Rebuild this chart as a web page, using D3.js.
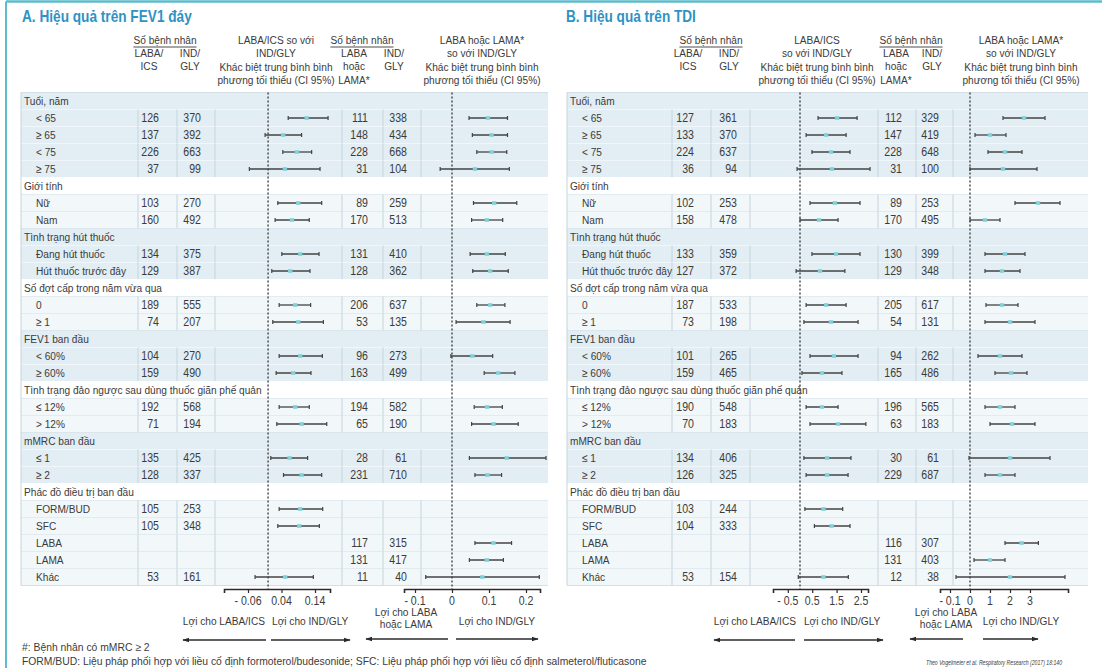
<!DOCTYPE html>
<html>
<head>
<meta charset="utf-8">
<script src="https://cdn.jsdelivr.net/npm/d3@7"></script>
<style>
  body { margin: 0; background: #fff; }
  svg { display: block; font-family: 'Liberation Sans', Arial, sans-serif; }
</style>
</head>
<body>
<svg id="chart" width="1102" height="668"></svg>
<script>
// ---- Subgroups (rows of both tables) ----
const rowLabels = [
  "Tuổi, năm", "< 65", "≥ 65", "< 75", "≥ 75",
  "Giới tính", "Nữ", "Nam",
  "Tình trạng hút thuốc", "Đang hút thuốc", "Hút thuốc trước đây",
  "Số đợt cấp trong năm vừa qua", "0", "≥ 1",
  "FEV1 ban đầu", "< 60%", "≥ 60%",
  "Tình trạng đảo ngược sau dùng thuốc giãn phế quản", "≤ 12%", "> 12%",
  "mMRC ban đầu", "≤ 1", "≥ 2",
  "Phác đồ điều trị ban đầu", "FORM/BUD", "SFC", "LABA", "LAMA", "Khác"
];
// 0 = group heading, 1 = subgroup
const rowLevel = [0,1,1,1,1, 0,1,1, 0,1,1, 0,1,1, 0,1,1, 0,1,1, 0,1,1, 0,1,1,1,1,1];

// ---- A. Trough FEV1 (L) ----
const fevLabaIcsN  = [null,126,137,226,37, null,103,160, null,134,129, null,189,74, null,104,159, null,192,71, null,135,128, null,105,105,null,null,53];
const fevIndGlyN1  = [null,370,392,663,99, null,270,492, null,375,387, null,555,207, null,270,490, null,568,194, null,425,337, null,253,348,null,null,161];
const fevLabaLamaN = [null,111,148,228,31, null,89,170, null,131,128, null,206,53, null,96,163, null,194,65, null,28,231, null,null,null,117,131,11];
const fevIndGlyN2  = [null,338,434,668,104, null,259,513, null,410,362, null,637,135, null,273,499, null,582,190, null,61,710, null,null,null,315,417,40];

const fevIcsEst = [null,0.115,0.045,0.086,0.050, null,0.090,0.071, null,0.096,0.066, null,0.081,0.090, null,0.096,0.075, null,0.081,0.100, null,0.064,0.100, null,0.096,0.093,null,null,0.051];
const fevIcsLo  = [null,0.060,-0.009,0.044,-0.056, null,0.029,0.021, null,0.041,0.011, null,0.033,0.014, null,0.033,0.024, null,0.033,0.026, null,0.008,0.046, null,0.033,0.029,null,null,-0.039];
const fevIcsHi  = [null,0.179,0.100,0.130,0.155, null,0.160,0.123, null,0.152,0.125, null,0.127,0.165, null,0.162,0.128, null,0.123,0.175, null,0.118,0.160, null,0.163,0.153,null,null,0.135];

const fevLamaEst = [null,0.097,0.107,0.107,0.062, null,0.114,0.094, null,0.094,0.103, null,0.103,0.085, null,0.055,0.125, null,0.095,0.112, null,0.148,0.096, null,null,null,0.112,0.094,0.082];
const fevLamaLo  = [null,0.046,0.055,0.067,-0.032, null,0.058,0.053, null,0.049,0.056, null,0.067,0.011, null,-0.003,0.087, null,0.060,0.053, null,0.047,0.062, null,null,null,0.062,0.047,-0.071];
const fevLamaHi  = [null,0.150,0.150,0.148,0.155, null,0.175,0.137, null,0.144,0.152, null,0.143,0.157, null,0.110,0.170, null,0.136,0.179, null,0.254,0.134, null,null,null,0.161,0.139,0.236];

// ---- B. TDI ----
const tdiLabaIcsN  = [null,127,133,224,36, null,102,158, null,133,127, null,187,73, null,101,159, null,190,70, null,134,126, null,103,104,null,null,53];
const tdiIndGlyN1  = [null,361,370,637,94, null,253,478, null,359,372, null,533,198, null,265,465, null,548,183, null,406,325, null,244,333,null,null,154];
const tdiLabaLamaN = [null,112,147,228,31, null,89,170, null,130,129, null,205,54, null,94,165, null,196,63, null,30,229, null,null,null,116,131,12];
const tdiIndGlyN2  = [null,329,419,648,100, null,253,495, null,399,348, null,617,131, null,262,486, null,565,183, null,61,687, null,null,null,307,403,38];

const tdiIcsEst = [null,1.52,1.07,1.27,1.31, null,1.43,0.78, null,1.48,0.82, null,1.07,1.27, null,1.39,0.90, null,0.90,1.56, null,1.11,1.11, null,0.96,1.30,null,null,0.96];
const tdiIcsLo  = [null,0.74,0.25,0.49,-0.12, null,0.41,0.00, null,0.49,-0.16, null,0.25,0.16, null,0.41,0.08, null,0.25,0.41, null,0.16,0.25, null,0.20,0.59,null,null,-0.07];
const tdiIcsHi  = [null,2.34,1.89,2.05,2.87, null,2.46,1.56, null,2.46,1.84, null,1.89,2.38, null,2.38,1.72, null,1.56,2.70, null,2.09,1.97, null,1.75,2.05,null,null,1.98];

const tdiLamaEst = [null,2.70,1.00,1.75,1.65, null,3.40,0.75, null,1.75,1.60, null,1.60,2.00, null,1.50,2.05, null,1.50,2.10, null,2.00,1.50, null,null,null,2.58,1.00,2.00];
const tdiLamaLo  = [null,1.65,0.25,0.90,0.00, null,2.25,0.00, null,0.75,0.75, null,0.80,0.75, null,0.40,1.25, null,0.75,1.00, null,-0.05,0.75, null,null,null,1.75,0.20,-0.70];
const tdiLamaHi  = [null,3.75,1.80,2.60,3.35, null,4.50,1.50, null,2.75,2.50, null,2.40,3.25, null,2.60,2.85, null,2.25,3.25, null,4.00,2.25, null,null,null,3.42,1.75,4.75];

// ---- Axis ticks ----
const fevIcsTicks = [-0.06, 0.04, 0.14];
const fevIcsTickLabels = ["- 0.06", "0.04", "0.14"];
const fevLamaTicks = [-0.1, 0, 0.1, 0.2];
const fevLamaTickLabels = ["- 0.1", "0", "0.1", "0.2"];
const tdiIcsTicks = [-0.5, 0.5, 1.5, 2.5];
const tdiIcsTickLabels = ["- 0.5", "0.5", "1.5", "2.5"];
const tdiLamaTicks = [-1, 0, 1, 2, 3];
const tdiLamaTickLabels = ["- 0.1", "0", "1", "2", "3"];

// ---- Drawing ----
const svg = d3.select("#chart");
const TEXT = "#3b3b3b";
const TITLE = "#2f92c4";
const BLUE_ROW = "#e2eef4";
const PALE_ROW = "#f2f7fa";
const GRID = "#c4d4dc";
const LINE = "#434343";
const DOT = "#7fd0d8";
const AXIS_Y = 589;
const BASE_SIZE = 11.5;

// width of a string at a given size, used to condense the sans face
function measure(s, size, weight) {
  const t = svg.append("text").attr("font-size", size).attr("font-weight", weight || null).text(s);
  const w = t.node().getComputedTextLength();
  t.remove();
  return w;
}
// narrow text: the long row heading spans about 238px
const SX = 238 / measure(rowLabels[17], BASE_SIZE);

function txt(g, x, y, s, opts = {}) {
  const sx = opts.sx || SX;
  return g.append("text")
    .attr("x", x / sx).attr("y", y)
    .attr("transform", `scale(${sx},1)`)
    .text(s)
    .attr("font-size", opts.size || BASE_SIZE)
    .attr("fill", opts.fill || TEXT)
    .attr("text-anchor", opts.anchor || "start")
    .attr("font-weight", opts.weight || null)
    .attr("font-style", opts.style || null);
}

const defs = svg.append("defs");
defs.append("marker")
  .attr("id", "arrowHead")
  .attr("viewBox", "0 0 10 10")
  .attr("refX", 9).attr("refY", 5)
  .attr("markerUnits", "userSpaceOnUse")
  .attr("markerWidth", 7).attr("markerHeight", 7)
  .attr("orient", "auto")
  .append("path").attr("d", "M0,1.5L10,5L0,8.5Z").attr("fill", "#2b2b2b");

// outer frame
svg.append("line").attr("x1", 6).attr("x2", 1102).attr("y1", 1.5).attr("y2", 1.5)
  .attr("stroke", "#5cbccb").attr("stroke-width", 2.5);
svg.append("line").attr("x1", 6).attr("x2", 6).attr("y1", 1.5).attr("y2", 668)
  .attr("stroke", "#5cbccb").attr("stroke-width", 2);

const rowY = d3.scaleBand().domain(d3.range(rowLabels.length)).range([92.5, 585.5]);
const rowH = rowY.bandwidth();
let grp = -1;
const groupOf = rowLevel.map(l => (l === 0 ? ++grp : grp));

function makeScale(v0, p0, v1, p1, axisStart, axisEnd) {
  const s = d3.scaleLinear().domain([v0, v1]).range([p0, p1]);
  return s.domain([s.invert(axisStart), s.invert(axisEnd)]).range([axisStart, axisEnd]);
}

function arrow(g, x1, x2, y) {
  g.append("line").attr("x1", x1).attr("x2", x2).attr("y1", y).attr("y2", y)
    .attr("stroke", "#2b2b2b").attr("stroke-width", 1.3)
    .attr("marker-end", "url(#arrowHead)");
}

function drawPanel(p) {
  const g = svg.append("g");
  const c = p.cols;
  const titleSx = p.titleWidth / measure(p.title, 16.5, "bold");
  txt(g, p.titleX, 22, p.title, { size: 16.5, weight: "bold", fill: TITLE, sx: titleSx });

  // column headings
  p.countHeads.forEach(x => {
    const t = txt(g, x, 44, "Số bệnh nhân", { anchor: "middle" });
    const w = t.node().getComputedTextLength() * SX;
    g.append("line").attr("x1", x - w / 2).attr("x2", x + w / 2).attr("y1", 47).attr("y2", 47)
      .attr("stroke", TEXT).attr("stroke-width", 0.9);
  });
  p.colHeads.forEach(h => h.lines.forEach((s, k) => txt(g, h.x, 57 + k * 13.5, s, { anchor: "middle" })));
  p.forests.forEach(f => f.head.forEach((s, k) => txt(g, f.headX, 44 + k * 13.3, s, { anchor: "middle" })));

  // table rows
  rowLabels.forEach((lab, i) => {
    const y0 = rowY(i);
    const odd = groupOf[i] % 2 === 1;
    const fill = rowLevel[i] === 0 ? (odd ? "#ffffff" : BLUE_ROW) : (odd ? PALE_ROW : BLUE_ROW);
    g.append("rect").attr("x", c[0]).attr("y", y0).attr("width", c[c.length - 1] - c[0]).attr("height", rowH)
      .attr("fill", fill);
    g.append("line").attr("x1", c[0]).attr("x2", c[c.length - 1]).attr("y1", y0 + rowH).attr("y2", y0 + rowH)
      .attr("stroke", odd ? "#d3dfe5" : "#ffffff").attr("stroke-width", 1);
    if (rowLevel[i] === 1) {
      c.slice(1, -1).forEach(x => g.append("line").attr("x1", x).attr("x2", x)
        .attr("y1", y0).attr("y2", y0 + rowH).attr("stroke", GRID).attr("stroke-width", 1));
    }
    txt(g, c[0] + (rowLevel[i] === 0 ? 3 : 15), y0 + rowH / 2 + 4, lab);
    p.counts.forEach((arr, k) => {
      if (arr[i] != null) txt(g, p.countRight[k], y0 + rowH / 2 + 4.3, arr[i], { anchor: "end", size: 12 });
    });
  });
  // outer table edges
  g.append("line").attr("x1", c[0]).attr("x2", c[c.length - 1]).attr("y1", rowY(0)).attr("y2", rowY(0))
    .attr("stroke", "#d3dfe5");
  g.append("line").attr("x1", c[0]).attr("x2", c[0]).attr("y1", rowY(0)).attr("y2", rowY(rowLabels.length - 1) + rowH)
    .attr("stroke", GRID);

  // forest plots
  p.forests.forEach(f => {
    const x = makeScale(f.anchor[0], f.anchor[1], f.anchor[2], f.anchor[3], f.axis[0], f.axis[1]);
    g.append("line").attr("x1", x(0)).attr("x2", x(0)).attr("y1", rowY(0)).attr("y2", AXIS_Y)
      .attr("stroke", "#444").attr("stroke-width", 1.4).attr("stroke-dasharray", "2,2");

    const rows = d3.range(rowLabels.length).filter(i => f.est[i] != null);
    const ci = g.append("g").selectAll("g").data(rows).join("g")
      .attr("transform", i => `translate(0,${rowY(i) + rowH / 2})`);
    ci.append("line").attr("x1", i => x(f.lo[i])).attr("x2", i => x(f.hi[i]))
      .attr("stroke", LINE).attr("stroke-width", 1.3);
    ci.append("line").attr("x1", i => x(f.lo[i])).attr("x2", i => x(f.lo[i])).attr("y1", -2).attr("y2", 2)
      .attr("stroke", LINE).attr("stroke-width", 1.2);
    ci.append("line").attr("x1", i => x(f.hi[i])).attr("x2", i => x(f.hi[i])).attr("y1", -2).attr("y2", 2)
      .attr("stroke", LINE).attr("stroke-width", 1.2);
    ci.append("rect").attr("x", i => x(f.est[i]) - 2.2).attr("y", -1.8).attr("width", 4.4).attr("height", 3.6)
      .attr("fill", DOT);

    const ax = g.append("g").attr("transform", `translate(0,${AXIS_Y})`)
      .call(d3.axisBottom(x).tickValues(f.ticks).tickFormat(() => "")
        .tickSizeOuter(0).tickSize(4));
    ax.select(".domain").attr("stroke", "#2b2b2b").attr("stroke-width", 1.6);
    ax.selectAll(".tick line").attr("stroke", "#2b2b2b").attr("stroke-width", 1.2);
    // tick labels in the same narrow face as the table
    f.ticks.forEach((v, k) => txt(g, x(v), 605, f.tickLabels[k], { anchor: "middle", size: 12 }));

    // favours labels
    const L = f.favLeft, R = f.favRight;
    L.lines.forEach((s, k) => txt(g, L.x, L.y + k * 12, s, { anchor: L.anchor }));
    R.lines.forEach((s, k) => txt(g, R.x, R.y + k * 12, s, { anchor: R.anchor }));
    arrow(g, L.arrow[0], L.arrow[1], f.arrowY);
    arrow(g, R.arrow[0], R.arrow[1], f.arrowY);
  });
}

const headIcs = ["LABA/ICS so với", "IND/GLY", "Khác biệt trung bình bình", "phương tối thiểu (CI 95%)"];
const headIcsB = ["LABA/ICS", "so với IND/GLY", "Khác biệt trung bình bình", "phương tối thiểu (CI 95%)"];
const headLama = ["LABA hoặc LAMA*", "so với IND/GLY", "Khác biệt trung bình bình", "phương tối thiểu (CI 95%)"];

drawPanel({
  title: "A. Hiệu quả trên FEV1 đáy", titleX: 22, titleWidth: 170,
  cols: [21, 138, 177, 215, 342, 383, 421, 548],
  counts: [fevLabaIcsN, fevIndGlyN1, fevLabaLamaN, fevIndGlyN2],
  countRight: [159, 201, 368, 407],
  countHeads: [165, 362],
  colHeads: [
    { x: 149, lines: ["LABA/", "ICS"] },
    { x: 190, lines: ["IND/", "GLY"] },
    { x: 354, lines: ["LABA", "hoặc", "LAMA*"] },
    { x: 394, lines: ["IND/", "GLY"] }
  ],
  forests: [
    { est: fevIcsEst, lo: fevIcsLo, hi: fevIcsHi, anchor: [-0.06, 248, 0.14, 315], axis: [224, 330],
      ticks: fevIcsTicks, tickLabels: fevIcsTickLabels, head: headIcs, headX: 276,
      favLeft: { lines: ["Lợi cho LABA/ICS"], x: 265, y: 625, anchor: "end", arrow: [266, 183] },
      favRight: { lines: ["Lợi cho IND/GLY"], x: 272, y: 625, anchor: "start", arrow: [271, 350] },
      arrowY: 640 },
    { est: fevLamaEst, lo: fevLamaLo, hi: fevLamaHi, anchor: [0, 452, 0.2, 526], axis: [404, 540],
      ticks: fevLamaTicks, tickLabels: fevLamaTickLabels, head: headLama, headX: 482,
      favLeft: { lines: ["Lợi cho LABA", "hoặc LAMA"], x: 406, y: 616, anchor: "middle", arrow: [448, 366] },
      favRight: { lines: ["Lợi cho IND/GLY"], x: 497, y: 625, anchor: "middle", arrow: [456, 538] },
      arrowY: 639 }
  ]
});

drawPanel({
  title: "B. Hiệu quả trên TDI", titleX: 566, titleWidth: 130,
  cols: [567, 672, 711, 750, 878, 916, 953, 1088],
  counts: [tdiLabaIcsN, tdiIndGlyN1, tdiLabaLamaN, tdiIndGlyN2],
  countRight: [694, 737, 902, 939],
  countHeads: [711, 911],
  colHeads: [
    { x: 688, lines: ["LABA/", "ICS"] },
    { x: 729, lines: ["IND/", "GLY"] },
    { x: 896, lines: ["LABA", "hoặc", "LAMA*"] },
    { x: 932, lines: ["IND/", "GLY"] }
  ],
  forests: [
    { est: tdiIcsEst, lo: tdiIcsLo, hi: tdiIcsHi, anchor: [0, 800, 2.5, 861], axis: [773, 868],
      ticks: tdiIcsTicks, tickLabels: tdiIcsTickLabels, head: headIcsB, headX: 817,
      favLeft: { lines: ["Lợi cho LABA/ICS"], x: 796, y: 625, anchor: "end", arrow: [795, 714] },
      favRight: { lines: ["Lợi cho IND/GLY"], x: 804, y: 625, anchor: "start", arrow: [804, 883] },
      arrowY: 640 },
    { est: tdiLamaEst, lo: tdiLamaLo, hi: tdiLamaHi, anchor: [0, 970, 3, 1030], axis: [940, 1068],
      ticks: tdiLamaTicks, tickLabels: tdiLamaTickLabels, head: headLama, headX: 1021,
      favLeft: { lines: ["Lợi cho LABA", "hoặc LAMA"], x: 946, y: 616, anchor: "middle", arrow: [963, 910] },
      favRight: { lines: ["Lợi cho IND/GLY"], x: 1021, y: 625, anchor: "middle", arrow: [983, 1038] },
      arrowY: 639 }
  ]
});

// footnotes
const foot1 = "#: Bệnh nhân có mMRC ≥ 2";
const foot2 = "FORM/BUD: Liệu pháp phối hợp với liều cố định formoterol/budesonide; SFC: Liệu pháp phối hợp với liều cố định salmeterol/fluticasone";
const source = "Theo Vogelmeier et al. Respiratory Research (2017) 18:140";
const footSx = 625 / measure(foot2, 11);
txt(svg, 22, 651, foot1, { size: 11, sx: footSx });
txt(svg, 22, 665, foot2, { size: 11, sx: footSx });
txt(svg, 1062, 665, source, { size: 8, style: "italic", anchor: "end", sx: 136 / measure(source, 8) });
</script>
</body>
</html>
